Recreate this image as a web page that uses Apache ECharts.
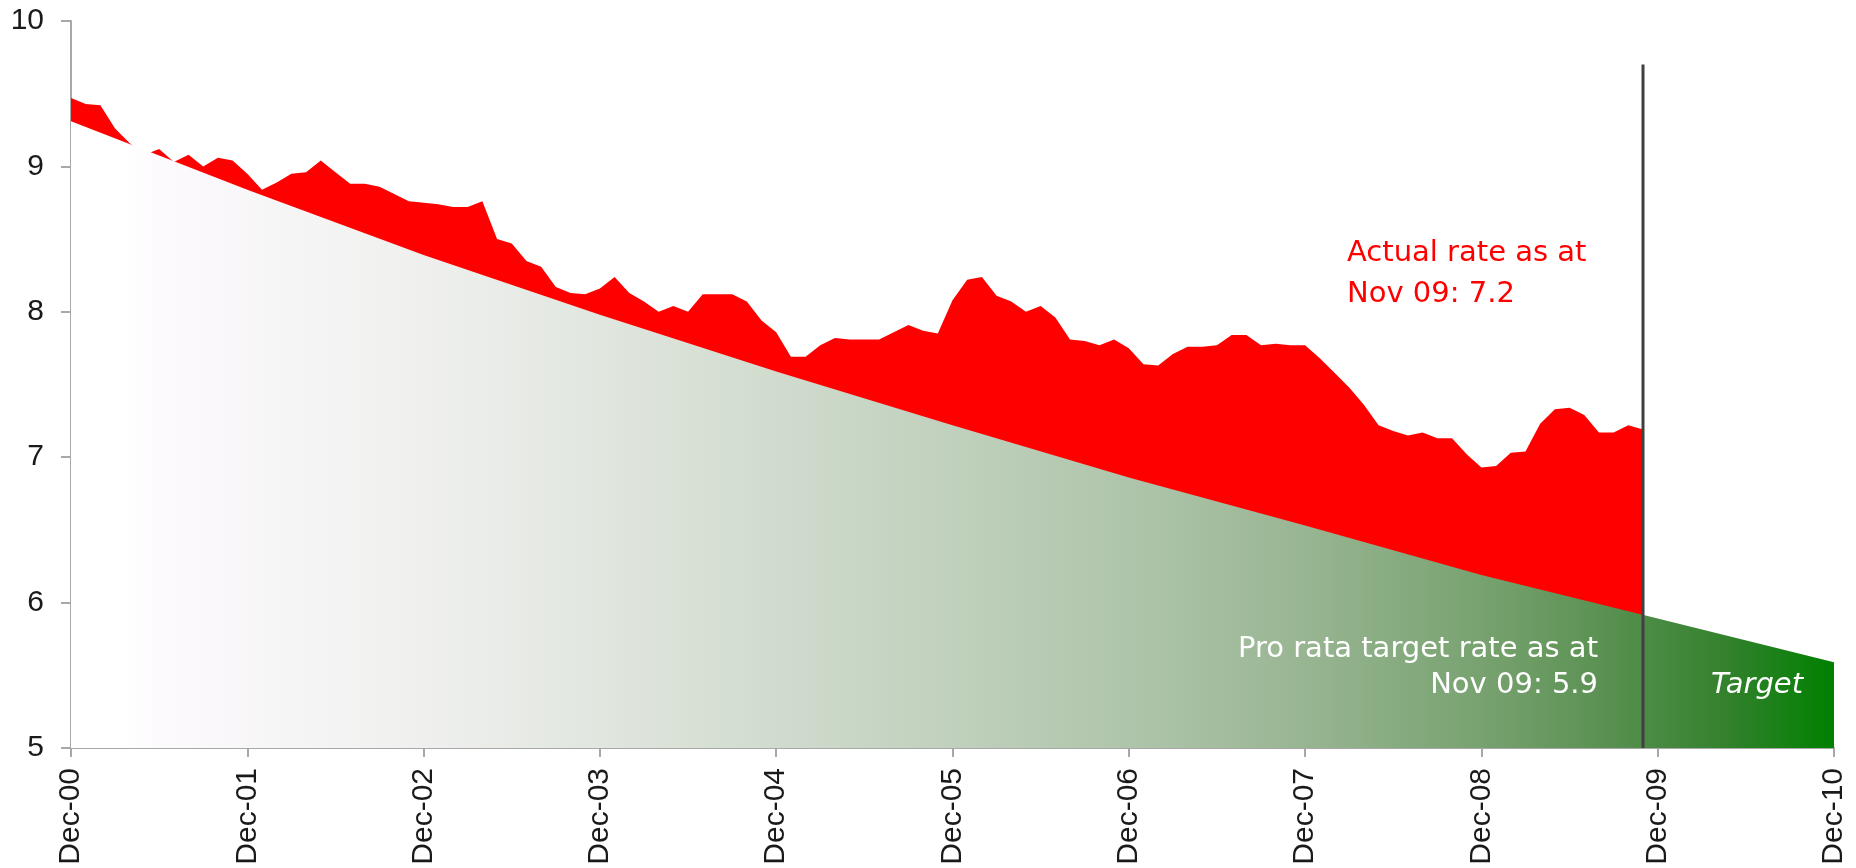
<!DOCTYPE html>
<html>
<head>
<meta charset="utf-8">
<title>Actual vs target rate</title>
<script src="https://cdn.jsdelivr.net/npm/echarts@6/dist/echarts.min.js"></script>
<style>
  html, body { margin: 0; padding: 0; background: #fff; }
  #chart { width: 1856px; height: 868px; }
</style>
</head>
<body>
<div id="chart"></div>
<script>
'use strict';

// x axis ticks, one per year (12 months apart)
var tickLabels = ['Dec-00', 'Dec-01', 'Dec-02', 'Dec-03', 'Dec-04', 'Dec-05',
                  'Dec-06', 'Dec-07', 'Dec-08', 'Dec-09', 'Dec-10'];

// actual rate, monthly from Dec-00 to Nov-09
var actualRate = [
  9.47, 9.43, 9.42, 9.26, 9.16, 9.08, 9.12, 9.03, 9.08, 9.00, 9.06, 9.04,
  8.95, 8.84, 8.89, 8.95, 8.96, 9.04, 8.96, 8.88, 8.88, 8.86, 8.81, 8.76,
  8.75, 8.74, 8.72, 8.72, 8.76, 8.50, 8.47, 8.35, 8.31, 8.17, 8.13, 8.12,
  8.16, 8.24, 8.13, 8.07, 8.00, 8.04, 8.00, 8.12, 8.12, 8.12, 8.07, 7.94,
  7.86, 7.69, 7.69, 7.77, 7.82, 7.81, 7.81, 7.81, 7.86, 7.91, 7.87, 7.85,
  8.08, 8.22, 8.24, 8.11, 8.07, 8.00, 8.04, 7.96, 7.81, 7.80, 7.77, 7.81,
  7.75, 7.64, 7.63, 7.71, 7.76, 7.76, 7.77, 7.84, 7.84, 7.77, 7.78, 7.77,
  7.77, 7.68, 7.58, 7.48, 7.36, 7.22, 7.18, 7.15, 7.17, 7.13, 7.13, 7.02,
  6.93, 6.94, 7.03, 7.04, 7.23, 7.33, 7.34, 7.29, 7.17, 7.17, 7.22, 7.19
];

// pro rata target rate at each December
var targetRate = [9.31, 8.84, 8.39, 7.98, 7.59, 7.22, 6.86, 6.53, 6.19, 5.89, 5.59];

// "as at" marker: Nov 09
var markerMonth = 107;
var markerTop = 9.7;

var axisFont = 'Liberation Sans';
var noteFont = '29px "DejaVu Sans"';

var actualData = [];
for (var i = 0; i < actualRate.length; i++) {
  actualData.push([i, actualRate[i]]);
}
var targetData = [];
for (var j = 0; j < targetRate.length; j++) {
  targetData.push([j * 12, targetRate[j]]);
}

// white at the start, greying into full green at Dec-10
var targetFill = new echarts.graphic.LinearGradient(0, 0, 1, 0, [
  { offset: 0, color: '#ffffff' },
  { offset: 0.03, color: '#ffffff' },
  { offset: 0.05, color: '#fdfafd' },
  { offset: 0.2, color: '#eff0ee' },
  { offset: 0.3, color: '#e1e6df' },
  { offset: 0.45, color: '#c8d6c5' },
  { offset: 0.6, color: '#afc5ab' },
  { offset: 0.7, color: '#98b592' },
  { offset: 0.8, color: '#78a270' },
  { offset: 0.87, color: '#5a9152' },
  { offset: 0.94, color: '#32812c' },
  { offset: 1, color: '#008000' }
]);

var option = {
  animation: false,
  backgroundColor: '#ffffff',
  grid: { left: 71, right: 22, top: 21, bottom: 120 },
  xAxis: {
    type: 'value',
    min: 0,
    max: 120,
    interval: 12,
    axisLine: { show: true, onZero: false, lineStyle: { color: '#a8a8a8', width: 2 } },
    axisTick: { show: true, length: 9, lineStyle: { color: '#a8a8a8', width: 2 } },
    axisLabel: {
      rotate: 90,
      margin: 20,
      fontFamily: axisFont,
      fontSize: 30,
      color: '#1a1a1a',
      formatter: function (v) { return tickLabels[Math.round(v / 12)]; }
    },
    splitLine: { show: false }
  },
  yAxis: {
    type: 'value',
    min: 5,
    max: 10,
    interval: 1,
    axisLine: { show: true, lineStyle: { color: '#a8a8a8', width: 2 } },
    axisTick: { show: true, length: 10, lineStyle: { color: '#a8a8a8', width: 2 } },
    axisLabel: { margin: 27, fontFamily: axisFont, fontSize: 30, color: '#1a1a1a' },
    splitLine: { show: false }
  },
  series: [
    {
      name: 'Actual',
      type: 'line',
      data: actualData,
      symbol: 'none',
      lineStyle: { width: 0 },
      areaStyle: { color: '#ff0000', opacity: 1, origin: 'start' },
      z: 1
    },
    {
      name: 'Target',
      type: 'line',
      data: targetData,
      symbol: 'none',
      lineStyle: { width: 0 },
      areaStyle: { color: targetFill, opacity: 1, origin: 'start' },
      z: 2
    },
    {
      name: 'As at',
      type: 'line',
      data: [[markerMonth, 5], [markerMonth, markerTop]],
      symbol: 'none',
      lineStyle: { color: '#404040', width: 3 },
      z: 3
    }
  ],
  graphic: [
    { type: 'text', x: 1347, y: 253, z: 10,
      style: { text: 'Actual rate as at', fill: '#ff0000', font: noteFont, verticalAlign: 'middle' } },
    { type: 'text', x: 1347, y: 294, z: 10,
      style: { text: 'Nov 09: 7.2', fill: '#ff0000', font: noteFont, verticalAlign: 'middle' } },
    { type: 'text', x: 1598, y: 649, z: 10,
      style: { text: 'Pro rata target rate as at', fill: '#ffffff', font: noteFont, align: 'right', verticalAlign: 'middle' } },
    { type: 'text', x: 1598, y: 685, z: 10,
      style: { text: 'Nov 09: 5.9', fill: '#ffffff', font: noteFont, align: 'right', verticalAlign: 'middle' } },
    { type: 'text', x: 1803, y: 685, z: 10,
      style: { text: 'Target', fill: '#ffffff', font: 'italic ' + noteFont, align: 'right', verticalAlign: 'middle' } }
  ]
};

var chart = echarts.init(document.getElementById('chart'));
chart.setOption(option);
</script>
</body>
</html>
